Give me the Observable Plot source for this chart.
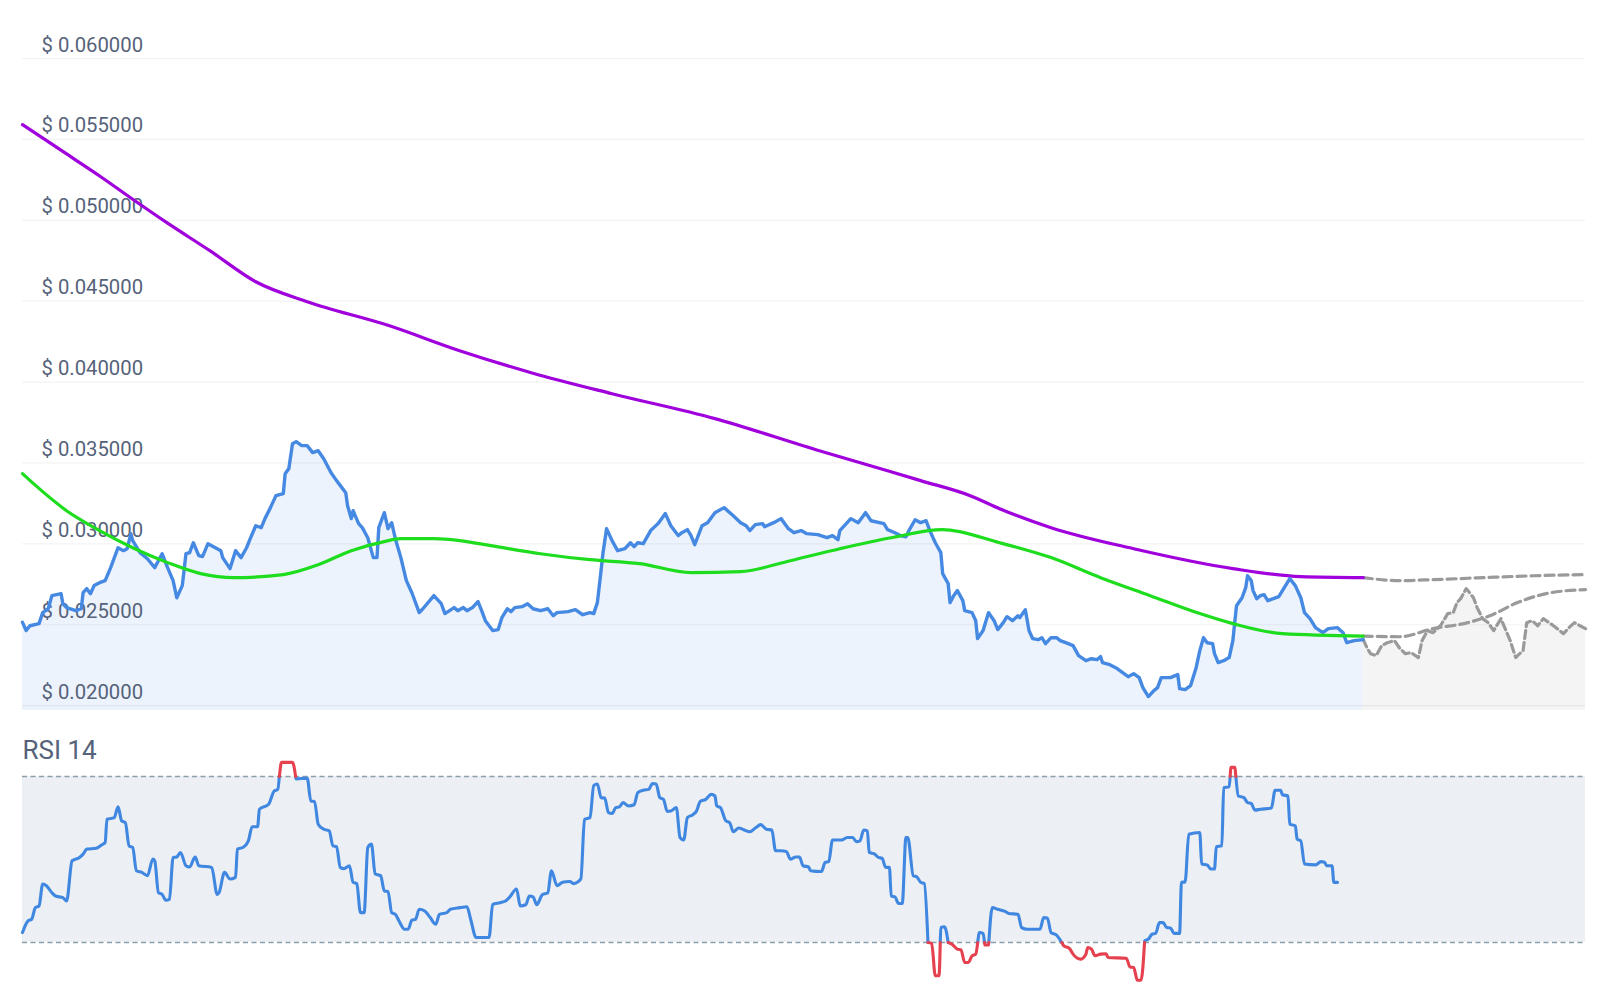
<!DOCTYPE html>
<html><head><meta charset="utf-8">
<script src="https://cdn.jsdelivr.net/npm/d3@7"></script>
<script src="https://cdn.jsdelivr.net/npm/@observablehq/plot@0.6"></script>
<style>
html,body{margin:0;padding:0;background:#fff;}
#chart{width:1600px;}
#chart svg{display:block;}
</style></head><body><div id="chart"></div>
<script>
// ---- price history (day index, USD) ----
const priceDays = [
0,2,4,9,11,14,16,21,22,24,
29,32,33,35,37,39,42,45,48,52,
55,57,59,60,64,68,72,76,79,82,
84,87,89,91,93,96,98,101,105,108,
109,113,116,119,122,124,127,130,132,135,
138,142,143,145,147,149,152,155,158,161,
164,168,171,176,177,179,180,183,185,188,
191,193,194,197,199,201,203,206,209,212,
216,218,224,228,230,235,237,240,242,245,
248,250,252,256,259,261,264,266,268,272,
275,278,282,286,289,291,297,301,305,309,
311,313,315,316,318,321,324,328,331,333,
335,338,342,346,350,353,357,359,362,364,
366,370,373,377,382,387,391,394,396,399,
403,404,409,413,417,420,424,427,433,438,
441,444,445,451,455,459,462,469,471,475,
478,481,483,486,489,492,494,497,500,501,
504,505,507,509,512,513,517,519,520,523,
526,529,531,534,536,539,542,543,546,548,
550,553,555,557,560,563,565,568,572,575,
579,582,585,587,588,592,596,599,602,605,
608,610,613,616,618,620,622,625,629,630,
633,636,639,641,643,645,648,649,651,654,
657,659,660,661,664,666,667,669,670,672,
674,676,678,681,684,686,690,693,696,698,
701,704,708,711,716,719,721,725,730];
const priceValues = [
.02515,.02464,.02494,.02507,.02575,.02599,.02680,.02692,.02630,.02606,
.02587,.02599,.02698,.02723,.02692,.02742,.02760,.02773,.02853,.02976,
.02958,.02970,.03063,.03020,.02946,.02908,.02853,.02939,.02853,.02773,
.02667,.02742,.02939,.02946,.03007,.02927,.02921,.03001,.02976,.02958,
.02915,.02847,.02958,.02915,.02976,.03032,.03112,.03100,.03156,.03224,
.03298,.03310,.03434,.03465,.03619,.03632,.03607,.03607,.03564,.03576,
.03526,.03440,.03391,.03316,.03236,.03156,.03205,.03125,.03100,.03038,
.02915,.02915,.03100,.03193,.03094,.03131,.03032,.02915,.02773,.02698,
.02575,.02599,.02680,.02630,.02569,.02606,.02587,.02606,.02587,.02606,
.02643,.02587,.02525,.02464,.02470,.02544,.02599,.02581,.02606,.02612,
.02630,.02599,.02587,.02599,.02556,.02575,.02581,.02593,.02562,.02575,
.02569,.02637,.02834,.02939,.03094,.03020,.02958,.02970,.03007,.02983,
.03007,.03001,.03082,.03125,.03187,.03112,.03051,.03069,.03088,.03051,
.02995,.03112,.03131,.03193,.03224,.03174,.03131,.03112,.03082,.03119,
.03125,.03106,.03131,.03156,.03094,.03069,.03082,.03063,.03057,.03038,
.03051,.03026,.03082,.03156,.03131,.03193,.03143,.03125,.03088,.03069,
.03051,.03044,.03090,.03149,.03131,.03143,.03082,.03007,.02946,.02816,
.02754,.02637,.02680,.02711,.02649,.02587,.02575,.02525,.02414,.02464,
.02575,.02525,.02470,.02513,.02550,.02525,.02556,.02544,.02593,.02464,
.02414,.02408,.02420,.02383,.02420,.02420,.02402,.02389,.02371,.02309,
.02278,.02290,.02284,.02303,.02266,.02253,.02229,.02204,.02179,.02198,
.02173,.02111,.02056,.02093,.02111,.02173,.02173,.02173,.02192,.02105,
.02099,.02124,.02235,.02340,.02420,.02389,.02383,.02321,.02266,.02278,
.02297,.02402,.02513,.02618,.02667,.02729,.02803,.02773,.02711,.02661,
.02680,.02686,.02649,.02661,.02674,.02711,.02785,.02742,.02667,.02575,
.02538,.02482,.02451,.02476,.02482,.02451,.02389,.02402,.02408];

// ---- SMA 200 (purple) ----
const sma200Days = [0,24,42,60,79,102,127,155,199,238,277,321,377,432,471,489,516,532,560,605,659,696,730];
const sma200Values = [.05591,.05410,.05274,.05130,.04982,.04812,.04620,.04497,.04351,.04194,.04058,.03928,.03774,.03582,.03452,.03391,.03298,.03217,.03100,.02970,.02847,.02797,.02791];

// ---- SMA 50 (green) ----
const sma50Days = [0,6,24,42,60,79,97,115,142,161,179,197,206,224,238,255,282,309,336,364,391,418,445,473,501,532,560,587,614,641,659,686,730];
const sma50Values = [.03434,.03372,.03205,.03082,.02976,.02884,.02816,.02791,.02810,.02871,.02958,.03014,.03032,.03032,.03020,.02989,.02939,.02902,.02878,.02822,.02828,.02896,.02970,.03038,.03088,.03007,.02915,.02791,.02680,.02569,.02507,.02445,.02430];

// ---- forecasts (grey dashed) ----
const sma200ForecastDays = [730,750,768,795,823,851];
const sma200ForecastValues = [.02791,.02773,.02779,.02791,.02803,.02810];
const sma50ForecastDays = [730,750,768,787,799,814,832,851];
const sma50ForecastValues = [.02430,.02426,.02476,.02513,.02556,.02637,.02698,.02717];
const priceForecastDays = [730,732,734,737,740,743,747,750,753,756,760,762,765,768,772,776,779,781,783,786,787,790,792,795,798,801,805,807,810,813,814,817,819,822,825,828,832,835,839,842,845,848,851];
const priceForecastValues = [.02408,.02358,.02321,.02309,.02371,.02389,.02402,.02352,.02321,.02328,.02297,.02402,.02464,.02451,.02494,.02569,.02575,.02637,.02661,.02723,.02711,.02667,.02606,.02538,.02513,.02464,.02538,.02482,.02402,.02297,.02309,.02340,.02513,.02525,.02494,.02538,.02507,.02482,.02445,.02482,.02513,.02494,.02476];

// ---- RSI 14 ----
const rsiDays = [
0,3,5,7,9,11,13,16,18,22,24,27,31,33,35,40,43,45,46,50,
52,54,56,58,60,62,65,68,71,72,74,76,78,80,82,84,86,89,91,94,
96,103,106,107,110,113,116,117,120,123,125,128,129,134,137,139,140,141,147,149,
155,157,159,161,164,167,169,171,173,175,178,180,182,184,186,188,190,192,195,197,
199,201,203,205,208,210,212,214,216,219,222,225,227,231,233,238,242,244,247,254,
256,260,263,265,269,271,274,276,278,280,283,286,288,291,294,298,300,304,306,309,
311,313,315,317,319,321,323,325,327,330,333,335,338,341,343,345,347,349,351,353,
356,358,360,362,365,367,369,372,375,377,378,380,383,385,387,390,393,396,399,402,
405,408,410,413,416,418,421,423,425,428,429,435,437,439,441,446,449,452,454,456,
458,460,461,464,466,468,470,472,473,475,477,479,481,482,485,487,489,491,493,495,
497,499,500,502,504,506,509,511,513,515,517,519,521,523,524,526,528,531,535,537,
542,544,547,554,556,558,560,563,565,567,570,572,576,579,580,582,584,587,590,591,
601,603,605,607,609,611,613,615,617,619,621,623,625,627,630,631,633,635,641,642,
645,647,649,650,653,654,657,658,660,662,665,667,669,671,674,680,682,685,686,689,
690,693,694,696,698,704,707,709,710,713,714,716];
const rsiValues = [
32.4,35.2,35.6,38.4,38.8,44.1,43.7,42.0,41.2,40.8,40.0,49.7,50.5,51.3,52.5,52.7,53.5,54.1,59.7,60.1,
62.7,59.3,58.9,53.3,52.9,47.3,46.9,46.1,50.1,49.7,42.0,41.6,40.2,40.4,50.5,50.6,51.7,48.5,48.2,50.6,
48.5,48.1,41.6,42.0,46.9,45.3,45.7,52.5,52.9,54.5,57.9,57.9,62.1,63.3,66.5,66.9,70.6,73.4,73.4,69.4,
69.6,64.1,64.0,58.5,57.3,56.9,53.3,53.1,48.1,47.8,48.5,44.5,44.2,37.2,37.2,52.9,53.7,46.5,46.1,42.4,
42.3,37.2,36.8,35.2,33.2,33.2,35.4,35.6,38.0,37.6,36.0,34.4,36.8,37.2,38.0,38.4,38.6,35.6,31.2,31.2,
39.2,39.6,40.0,40.8,42.9,38.8,39.1,41.2,41.0,39.1,41.5,42.0,47.3,43.7,44.5,44.7,44.2,45.3,59.7,60.1,
67.8,68.2,64.9,64.8,61.3,61.1,62.5,62.7,63.7,62.9,63.2,66.1,66.7,66.9,68.3,68.2,64.9,64.5,61.6,61.7,
62.5,55.3,54.7,60.1,60.8,61.7,64.0,64.5,65.7,65.3,62.9,62.5,59.3,58.9,56.7,57.6,57.1,56.7,57.6,58.4,
57.3,57.1,52.1,52.1,51.9,50.1,50.6,50.6,48.5,48.2,47.3,47.1,49.3,49.5,54.7,54.7,55.3,55.3,54.3,54.5,
57.1,56.9,51.7,51.3,50.5,50.3,48.1,48.1,41.2,41.0,39.4,39.4,55.3,55.3,46.1,45.8,44.5,44.2,30.0,29.8,
22.0,22.0,33.6,33.8,30.0,29.6,28.4,28.2,25.2,25.2,26.8,27.2,32.4,32.2,29.4,29.4,38.4,38.0,37.5,37.0,
36.8,33.6,33.2,33.2,36.0,35.9,32.4,31.8,30.6,29.2,28.6,27.2,26.0,27.2,28.8,28.4,26.8,27.2,27.3,26.4,
26.2,24.1,24.0,20.9,20.9,30.4,30.8,32.0,32.2,34.8,34.8,33.6,33.5,32.2,32.2,44.5,44.6,56.1,56.5,48.9,
48.7,47.7,47.7,53.1,53.3,67.3,67.5,72.2,72.2,65.3,64.9,63.7,63.5,61.9,62.1,62.4,66.7,66.7,65.6,65.3,
58.5,58.1,54.9,54.5,48.9,48.7,49.5,49.3,48.5,48.5,44.5,44.5];

const priceTicks = [0.020,0.025,0.030,0.035,0.040,0.045,0.050,0.055,0.060];
const rsiBands = [30, 70];

// ---- helpers ----
function zip(days, vals) {
  const n = Math.min(days.length, vals.length);
  const out = [];
  for (let i = 0; i < n; i++) out.push({day: days[i], v: vals[i]});
  return out;
}
const X_DOMAIN = [0, 851];
const Y_PRICE = [0.0197, 0.060];
const FONT = "Roboto, 'Open Sans', sans-serif";
const LABEL = "#55627a";

const price = zip(priceDays, priceValues);
const sma200 = zip(sma200Days, sma200Values);
const sma50 = zip(sma50Days, sma50Values);
const fSma200 = zip(sma200ForecastDays, sma200ForecastValues);
const fSma50 = zip(sma50ForecastDays, sma50ForecastValues);
const fPrice = zip(priceForecastDays, priceForecastValues);
const rsi = zip(rsiDays, rsiValues);

// split RSI into runs inside / outside the 30–70 band
function splitRuns(pts) {
  const cls = v => v > 70 ? "hi" : v < 30 ? "lo" : "mid";
  const out = [];
  for (let i = 0; i < pts.length; i++) {
    const p = pts[i];
    if (i > 0) {
      const q = pts[i - 1];
      const cr = [];
      for (const t of rsiBands) {
        if ((q.v - t) * (p.v - t) < 0) {
          const f = (t - q.v) / (p.v - q.v);
          cr.push({f, day: q.day + f * (p.day - q.day), v: t});
        }
      }
      cr.sort((a, b) => a.f - b.f).forEach(c => out.push({day: c.day, v: c.v}));
    }
    out.push(p);
  }
  const runs = [];
  let cur = null;
  for (let i = 1; i < out.length; i++) {
    const a = out[i - 1], b = out[i];
    const c = cls((a.v + b.v) / 2);
    if (!cur || cur.c !== c) { cur = {c, pts: [a]}; runs.push(cur); }
    cur.pts.push(b);
  }
  return runs.flatMap((r, k) => r.pts.map(p => ({day: p.day, v: p.v, seg: k, c: r.c})));
}
const rsiRuns = splitRuns(rsi);
const rsiMid = rsiRuns.filter(d => d.c === "mid");
const rsiOut = rsiRuns.filter(d => d.c !== "mid");

const pricePlot = Plot.plot({
  width: 1600, height: 710,
  marginTop: 58, marginBottom: 0, marginLeft: 22, marginRight: 15,
  x: {domain: X_DOMAIN, axis: null},
  y: {domain: Y_PRICE, axis: null},
  style: {fontFamily: FONT, background: "transparent", overflow: "visible"},
  marks: [
    Plot.areaY(price, {x: "day", y1: Y_PRICE[0], y2: "v", fill: "#ecf3fc"}),
    Plot.areaY(fPrice, {x: "day", y1: Y_PRICE[0], y2: "v", fill: "#f4f4f4"}),
    Plot.ruleY(priceTicks, {stroke: "#000", strokeOpacity: 0.05, strokeWidth: 1.2}),
    Plot.text(priceTicks, {y: d => d, text: d => "$ " + d.toFixed(6), frameAnchor: "left",
      textAnchor: "start", lineAnchor: "bottom", dx: 19, dy: -7, fontSize: 20.3, fill: LABEL}),
    Plot.line(fSma200, {x: "day", y: "v", stroke: "#9a9a9a", strokeWidth: 3.2, strokeDasharray: "9,5", curve: "monotone-x"}),
    Plot.line(fSma50, {x: "day", y: "v", stroke: "#9a9a9a", strokeWidth: 3.2, strokeDasharray: "9,5", curve: "monotone-x"}),
    Plot.line(fPrice, {x: "day", y: "v", stroke: "#9a9a9a", strokeWidth: 3.2, strokeDasharray: "8,4"}),
    Plot.line(sma200, {x: "day", y: "v", stroke: "#a000dc", strokeWidth: 3.2, curve: "monotone-x"}),
    Plot.line(price, {x: "day", y: "v", stroke: "#4689e2", strokeWidth: 3.4}),
    Plot.line(sma50, {x: "day", y: "v", stroke: "#1edc1e", strokeWidth: 3.2, curve: "monotone-x"})
  ]
});

const rsiPlot = Plot.plot({
  width: 1600, height: 278,
  marginTop: 45, marginBottom: 0, marginLeft: 22, marginRight: 15,
  x: {domain: X_DOMAIN, axis: null},
  y: {domain: [18.92, 75.06], axis: null},
  style: {fontFamily: FONT, background: "transparent", overflow: "visible"},
  marks: [
    Plot.rect([0], {x1: X_DOMAIN[0], x2: X_DOMAIN[1], y1: rsiBands[0], y2: rsiBands[1], fill: "#eceff3"}),
    Plot.ruleY(rsiBands, {stroke: "#8c9eab", strokeWidth: 1.4, strokeDasharray: "5,3.5"}),
    Plot.line(rsiMid, {x: "day", y: "v", z: "seg", stroke: "#3f87e0", strokeWidth: 3.1, curve: "monotone-x"}),
    Plot.line(rsiOut, {x: "day", y: "v", z: "seg", stroke: "#e5414f", strokeWidth: 3.1, curve: "monotone-x"}),
    Plot.text(["RSI 14"], {frameAnchor: "top-left", textAnchor: "start", lineAnchor: "bottom",
      dy: 3, fontSize: 26, fill: LABEL})
  ]
});

const root = document.getElementById("chart");
root.appendChild(pricePlot);
root.appendChild(rsiPlot);
</script>
</body></html>
